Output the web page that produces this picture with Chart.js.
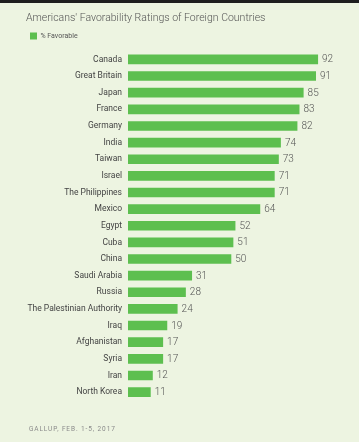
<!DOCTYPE html>
<html>
<head>
<meta charset="utf-8">
<script src="https://cdn.jsdelivr.net/npm/chart.js@4/dist/chart.umd.min.js"></script>
<style>
  html, body { margin: 0; padding: 0; }
  body { width: 359px; height: 442px; background: #edf4e1; position: relative; overflow: hidden; }
  #topbar { position: absolute; left: 0; top: 0; width: 359px; height: 3px; background: #1e1e1e; }
  #wrap { position: absolute; left: 0; top: 0; width: 359px; height: 442px; }
</style>
</head>
<body>
<div id="wrap"><canvas id="c" width="359" height="442"></canvas></div>
<div id="topbar"></div>
<script>
const categories = ["Canada", "Great Britain", "Japan", "France", "Germany", "India", "Taiwan", "Israel", "The Philippines", "Mexico", "Egypt", "Cuba", "China", "Saudi Arabia", "Russia", "The Palestinian Authority", "Iraq", "Afghanistan", "Syria", "Iran", "North Korea"];
const favorable = [92, 91, 85, 83, 82, 74, 73, 71, 71, 64, 52, 51, 50, 31, 28, 24, 19, 17, 17, 12, 11];
const seriesName = "% Favorable";
const titleText = "Americans' Favorability Ratings of Foreign Countries";
const sourceText = "GALLUP, FEB. 1-5, 2017";

const valueLabels = {
  id: 'valueLabels',
  afterDatasetsDraw(chart) {
    const ctx = chart.ctx;
    const meta = chart.getDatasetMeta(0);
    ctx.save();
    ctx.font = '300 10px Roboto';
    ctx.fillStyle = '#555';
    ctx.textAlign = 'left';
    ctx.textBaseline = 'middle';
    meta.data.forEach((bar, i) => {
      ctx.fillText(String(chart.data.datasets[0].data[i]), bar.x + 4, bar.y + 0.5);
    });
    ctx.restore();
  }
};

const sourceNote = {
  id: 'sourceNote',
  afterDraw(chart) {
    const ctx = chart.ctx;
    ctx.save();
    ctx.font = '6.5px Roboto';
    try { ctx.letterSpacing = '0.9px'; } catch (e) {}
    ctx.fillStyle = '#8a8a8a';
    ctx.textAlign = 'left';
    ctx.textBaseline = 'middle';
    ctx.fillText(sourceText, 29, 429);
    ctx.restore();
  }
};

new Chart(document.getElementById('c'), {
  type: 'bar',
  data: {
    labels: categories,
    datasets: [{
      label: seriesName,
      data: favorable,
      backgroundColor: '#5dbf4f',
      borderWidth: 0,
      barPercentage: 0.58,
      categoryPercentage: 1
    }]
  },
  options: {
    indexAxis: 'y',
    responsive: false,
    animation: false,
    devicePixelRatio: 1,
    layout: { padding: { top: 3, left: 26, right: 24.4, bottom: 41.6 } },
    scales: {
      x: {
        position: 'top',
        min: 0, max: 100,
        grid: { display: false, drawTicks: false },
        border: { display: false },
        ticks: { display: false },
        afterFit: s => { s.height = 1.5; }
      },
      y: {
        grid: { display: false, drawTicks: false },
        border: { display: false },
        ticks: { color: '#444', font: { family: 'Roboto', size: 8.5 }, padding: 6, autoSkip: false },
        afterFit: s => { s.width = 102; }
      }
    },
    plugins: {
      tooltip: { enabled: false },
      title: {
        display: true, text: titleText, align: 'start',
        color: '#555', font: { family: 'Roboto', size: 10.5, weight: '300' },
        padding: { top: 9.5, bottom: 3.5 }
      },
      legend: {
        display: true, align: 'start',
        labels: { boxWidth: 7, boxHeight: 7, padding: 4, color: '#555', font: { family: 'Roboto', size: 7 } }
      }
    }
  },
  plugins: [valueLabels, sourceNote]
});
</script>
</body>
</html>
